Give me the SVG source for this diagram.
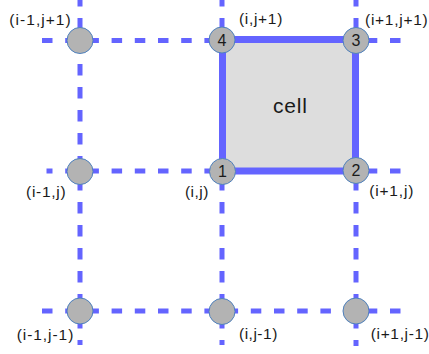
<svg xmlns="http://www.w3.org/2000/svg" width="429" height="354" viewBox="0 0 429 354">
<style>
.h{stroke:#6464ff;stroke-width:5;stroke-dasharray:10.5 12.7;fill:none}
.v{stroke:#6464ff;stroke-width:5;stroke-dasharray:11.5 11.5;stroke-dashoffset:5;fill:none}
.pt{fill:#b3b3b3;stroke:#4f81bd;stroke-width:1}
.lbl{font-family:"Liberation Sans",Arial,sans-serif;font-size:15.5px;fill:#1a1a1a}
.num{font-family:"Liberation Sans",Arial,sans-serif;font-size:16px;fill:#1a1a1a;text-anchor:middle}
</style>
<rect width="429" height="354" fill="#ffffff"/>
<g id="connectors">
<line class="h" x1="42" y1="40.5" x2="401" y2="40.5"/>
<line class="h" x1="46.5" y1="171" x2="401" y2="171" style="stroke-dashoffset:4.5"/>
<line class="h" x1="42" y1="311" x2="401" y2="311"/>
<line class="v" x1="80" y1="0" x2="80" y2="345"/>
<line class="v" x1="222" y1="0" x2="222" y2="345"/>
<line class="v" x1="356" y1="0" x2="356" y2="346"/>
</g>
<g id="cell">
<rect x="222.5" y="39.5" width="133" height="131.5" fill="#dddddd" stroke="#6464ff" stroke-width="7"/>
<text x="273" y="113" font-family="'Liberation Sans',Arial,sans-serif" font-size="21" fill="#1a1a1a" textLength="34" lengthAdjust="spacing">cell</text>
</g>
<g id="n-im1-jp1">
<circle class="pt" cx="80" cy="40.5" r="13"/>
<text class="lbl" x="9.3" y="24.5" textLength="61.4" lengthAdjust="spacing">(i-1,j+1)</text>
</g>
<g id="n4">
<circle class="pt" cx="222" cy="40" r="13"/>
<text class="num" x="222" y="45.5">4</text>
<text class="lbl" x="239" y="24" textLength="43.3" lengthAdjust="spacing">(i,j+1)</text>
</g>
<g id="n3">
<circle class="pt" cx="356" cy="40.5" r="13"/>
<text class="num" x="356" y="46">3</text>
<text class="lbl" x="365" y="25" textLength="62.7" lengthAdjust="spacing">(i+1,j+1)</text>
</g>
<g id="n-im1-j">
<circle class="pt" cx="80" cy="171.5" r="13"/>
<text class="lbl" x="26" y="196.5" textLength="39.7" lengthAdjust="spacing">(i-1,j)</text>
</g>
<g id="n1">
<circle class="pt" cx="222.5" cy="171.5" r="13"/>
<text class="num" x="222.5" y="177">1</text>
<text class="lbl" x="185" y="196.5" textLength="23.3" lengthAdjust="spacing">(i,j)</text>
</g>
<g id="n2">
<circle class="pt" cx="356" cy="170.5" r="13"/>
<text class="num" x="356" y="176">2</text>
<text class="lbl" x="369.3" y="195.5" textLength="44" lengthAdjust="spacing">(i+1,j)</text>
</g>
<g id="n-im1-jm1">
<circle class="pt" cx="80" cy="311" r="13"/>
<text class="lbl" x="16.7" y="340" textLength="56.6" lengthAdjust="spacing">(i-1,j-1)</text>
</g>
<g id="n-i-jm1">
<circle class="pt" cx="222" cy="311.5" r="13"/>
<text class="lbl" x="239" y="338.5" textLength="38.3" lengthAdjust="spacing">(i,j-1)</text>
</g>
<g id="n-ip1-jm1">
<circle class="pt" cx="356" cy="311" r="13"/>
<text class="lbl" x="370.7" y="338.5" textLength="58.3" lengthAdjust="spacing">(i+1,j-1)</text>
</g>
</svg>
